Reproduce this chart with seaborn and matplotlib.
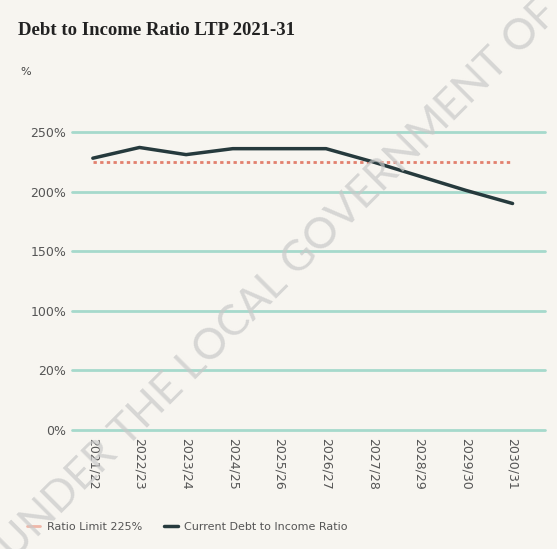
import pandas as pd
import matplotlib.pyplot as plt
import seaborn as sns
from matplotlib.lines import Line2D

sns.set_style("white")

years = ["2021/22", "2022/23", "2023/24", "2024/25", "2025/26",
         "2026/27", "2027/28", "2028/29", "2029/30", "2030/31"]
debt_ratio = [228, 237, 231, 236, 236, 236, 225, 213, 201, 190]
ratio_limit = [225] * len(years)
y_ticks = [0, 50, 100, 150, 200, 250]
y_tick_labels = ["0%", "20%", "100%", "150%", "200%", "250%"]

df = pd.DataFrame({"Year": years, "Debt": debt_ratio, "Limit": ratio_limit})
df["pos"] = range(len(df))

bg = "#f7f5f0"
fig = plt.figure(figsize=(5.57, 5.49), dpi=100, facecolor=bg)
ax = fig.add_axes([0.129, 0.2168, 0.849, 0.5428])
ax.set_facecolor(bg)

# gridlines
for t in y_ticks:
    ax.axhline(t, color="#a6d9cc", lw=2, zorder=1, clip_on=False)

sns.lineplot(data=df, x="pos", y="Limit", ax=ax, color="#e2806e",
             linestyle=(0, (1.2, 1.2)), lw=2, zorder=2)
sns.lineplot(data=df, x="pos", y="Debt", ax=ax, color="#263a3d",
             lw=2.5, zorder=3)
for l in ax.lines:
    l.set_clip_on(False)

ax.set_xlim(-0.45, 9.69)
ax.set_ylim(0, 250)
ax.set_yticks(y_ticks)
ax.set_yticklabels(y_tick_labels)
ax.set_xticks(df["pos"])
ax.set_xticklabels(years, rotation=270, va="top", ha="center")
ax.tick_params(axis="both", length=0, labelsize=9, labelcolor="#555555")
ax.tick_params(axis="y", pad=4)
ax.tick_params(axis="x", pad=6)
ax.set_xlabel("")
ax.set_ylabel("")
sns.despine(ax=ax, left=True, bottom=True)

fig.text(0.032, 0.945, "Debt to Income Ratio LTP 2021-31", fontsize=13.5,
         fontweight="bold", family="Liberation Serif", color="#222222",
         va="center")
fig.text(0.036, 0.868, "%", fontsize=8, color="#444444", va="center")

handles = [Line2D([], [], color="#f0b7a8", lw=2),
           Line2D([], [], color="#263a3d", lw=2.5)]
fig.legend(handles, ["Ratio Limit 225%", "Current Debt to Income Ratio"],
           loc="center left", bbox_to_anchor=(0.03, 0.04), ncol=2,
           frameon=False, fontsize=8, handlelength=1.2, handletextpad=0.6,
           columnspacing=2.0, labelcolor="#555555")

# watermark
fig.text(0.5, 0.49, "UNDER THE LOCAL GOVERNMENT OF", fontsize=31,
         color="#c9c9c9", alpha=0.7, rotation=45, ha="center", va="center",
         family=["Lato", "DejaVu Sans"], zorder=10)

fig.savefig("out.png", dpi=100, facecolor=bg)
